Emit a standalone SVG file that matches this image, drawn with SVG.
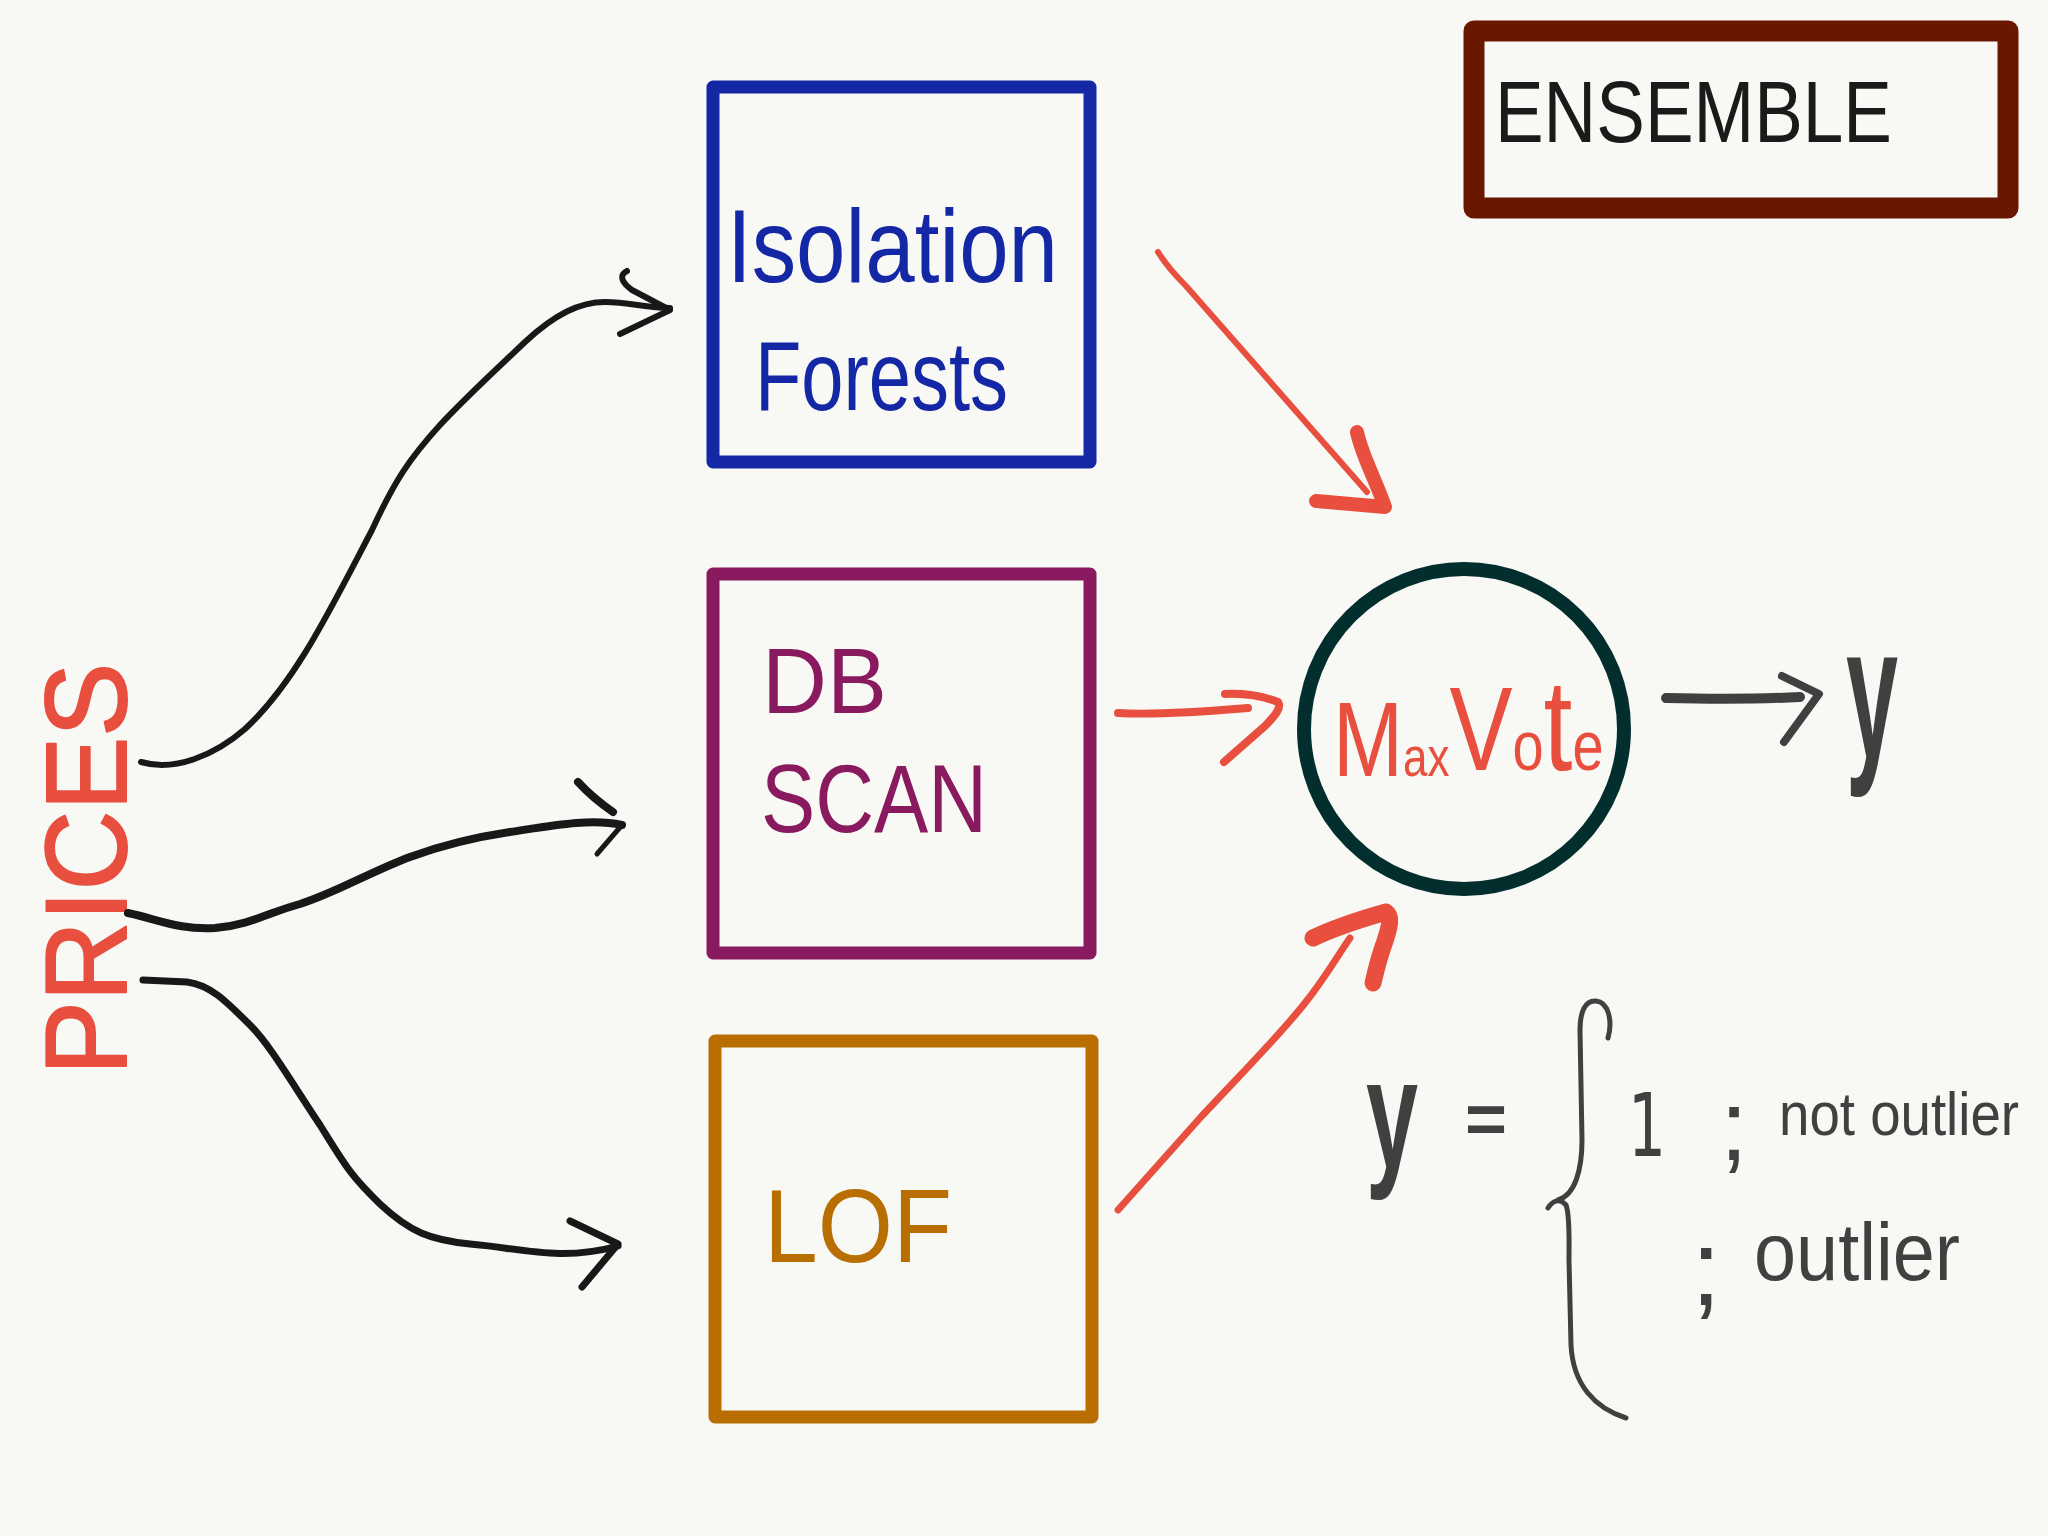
<svg xmlns="http://www.w3.org/2000/svg" width="2048" height="1536" viewBox="0 0 2048 1536">
<style>
text{font-family:"Liberation Sans",Arial,sans-serif;}
.box{fill:none;stroke-width:13;stroke-linejoin:round;}
.ink{fill:none;stroke-linecap:round;stroke-linejoin:round;}
.blk{stroke:#181818;}
.red{stroke:#e84f3f;}
.gry{stroke:#404040;}
.eq{fill:#404040;}
</style>
<rect width="2048" height="1536" fill="#f8f8f4"/>

<g id="ensemble">
<rect x="1474" y="31" width="534" height="177" fill="none" stroke="#6a1700" stroke-width="21" stroke-linejoin="round"/>
<text x="1495" y="142" font-size="88" fill="#1a1a1a" textLength="397" lengthAdjust="spacingAndGlyphs">ENSEMBLE</text>
</g>

<g id="prices">
<text transform="translate(126,1075) rotate(-90)" font-size="115" fill="#e84f3f" stroke="#e84f3f" stroke-width="2" stroke-linejoin="round" textLength="412" lengthAdjust="spacingAndGlyphs">PRICES</text>
</g>

<g id="isolation-forests">
<rect class="box" x="713" y="87" width="377" height="375" stroke="#1428a6"/>
<text x="727" y="282" font-size="104" fill="#1428a6" textLength="331" lengthAdjust="spacingAndGlyphs">Isolation</text>
<text x="755" y="410" font-size="98" fill="#1428a6" textLength="253" lengthAdjust="spacingAndGlyphs">Forests</text>
</g>

<g id="dbscan">
<rect class="box" x="713" y="574" width="377" height="379" stroke="#8a1a5f"/>
<text x="762" y="713" font-size="92" fill="#8a1a5f" textLength="125" lengthAdjust="spacingAndGlyphs">DB</text>
<text x="761" y="832" font-size="96" fill="#8a1a5f" textLength="226" lengthAdjust="spacingAndGlyphs">SCAN</text>
</g>

<g id="lof">
<rect class="box" x="715" y="1041" width="377" height="376" stroke="#b86e00"/>
<text x="764" y="1262" font-size="104" fill="#b86e00" textLength="188" lengthAdjust="spacingAndGlyphs">LOF</text>
</g>

<g id="maxvote">
<circle cx="1464" cy="729" r="160" fill="none" stroke="#032e2e" stroke-width="14"/>
<text transform="translate(1333,776) scale(0.8,1)" fill="#e84f3f"><tspan font-size="105">M</tspan><tspan font-size="55">ax</tspan><tspan font-size="118" dy="-6">V</tspan><tspan font-size="70">o</tspan><tspan font-size="130">t</tspan><tspan font-size="70">e</tspan></text>
</g>

<g id="output-y">
<text x="1846" y="758" font-size="190" font-weight="bold" fill="#404040" textLength="52" lengthAdjust="spacingAndGlyphs">y</text>
</g>

<g id="equation">
<text class="eq" x="1366" y="1168" font-size="155" font-weight="bold" textLength="52" lengthAdjust="spacingAndGlyphs">y</text>
<text class="eq" x="1465" y="1143" font-size="70" font-weight="bold" textLength="42" lengthAdjust="spacingAndGlyphs">=</text>
<path class="ink gry" stroke-width="5" d="M1608,1038 C1613,1020 1608,1002 1596,1001 C1585,1000 1580,1012 1580,1030 L1582,1140 C1582,1170 1575,1195 1558,1200 M1548,1208 C1553,1200 1560,1198 1566,1205 C1570,1215 1569,1240 1569,1260 L1571,1345 C1573,1385 1595,1408 1626,1418"/>
<text class="eq" x="1628" y="1156" font-size="88" style="font-family:'DejaVu Sans',sans-serif" textLength="38" lengthAdjust="spacingAndGlyphs">1</text>
<text class="eq" x="1720" y="1160" font-size="100">;</text>
<text class="eq" x="1779" y="1135" font-size="62" textLength="240" lengthAdjust="spacingAndGlyphs">not outlier</text>
<text class="eq" x="1691" y="1305" font-size="108">;</text>
<text class="eq" x="1754" y="1280" font-size="82" textLength="206" lengthAdjust="spacingAndGlyphs">outlier</text>
</g>

<g id="connectors">
<path class="ink blk" stroke-width="6" d="M141,762 C175,772 215,755 245,729 C295,683 330,610 372,530 C395,480 410,458 440,425 C470,393 500,366 525,342 C555,314 580,302 605,302 C630,302 645,308 670,308"/>
<path class="ink blk" stroke-width="6" d="M627,271 C619,275 621,282 632,290 L670,310 L620,334"/>
<path class="ink blk" stroke-width="8" d="M128,913 C160,920 180,930 215,928 C250,925 270,912 300,904 C335,893 370,872 410,857 C440,846 470,838 510,832 C550,826 590,818 622,825"/>
<path class="ink blk" stroke-width="8" d="M578,782 C590,795 600,803 613,812"/>
<path class="ink blk" stroke-width="5" d="M622,825 L597,854"/>
<path class="ink blk" stroke-width="7" d="M143,980 L187,982 C210,985 225,1000 250,1025 C270,1045 290,1080 320,1125 C345,1165 350,1175 380,1204 C410,1232 430,1240 470,1244 C520,1248 560,1262 618,1246"/>
<path class="ink blk" stroke-width="7" d="M570,1221 L618,1244 L582,1287"/>
<path class="ink red" stroke-width="6" d="M1158,252 C1168,268 1178,278 1186,286 L1367,492"/>
<path class="ink red" stroke-width="14" d="M1357,432 C1362,456 1375,478 1385,507 L1316,501"/>
<path class="ink red" stroke-width="8" d="M1118,713 C1150,715 1200,712 1248,708"/>
<path class="ink red" stroke-width="8" d="M1225,694 C1245,693 1265,697 1278,702 C1282,708 1275,716 1265,726 L1224,762"/>
<path class="ink red" stroke-width="7" d="M1118,1210 L1200,1118 C1240,1075 1280,1035 1305,1003 C1325,978 1338,955 1350,938"/>
<path class="ink red" stroke-width="17" d="M1313,938 C1340,925 1365,918 1386,912 C1392,916 1390,926 1385,941 C1378,960 1375,975 1373,983"/>
<path class="ink gry" stroke-width="10" d="M1666,698 C1710,699 1760,699 1800,697"/>
<path class="ink gry" stroke-width="8" d="M1782,676 L1819,694 L1784,742"/>
</g>
</svg>
